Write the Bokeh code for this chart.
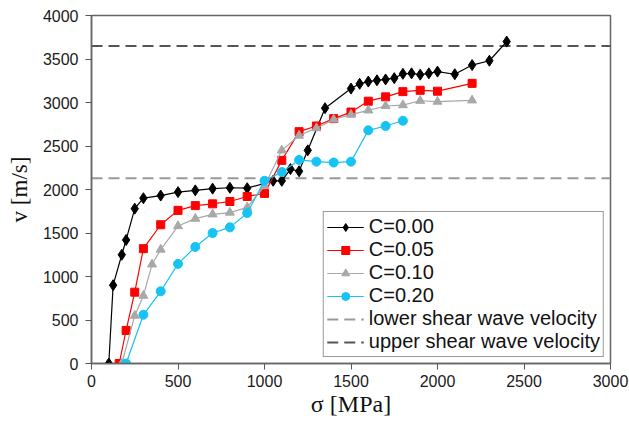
from bokeh.plotting import figure
from bokeh.models import Range1d, FixedTicker, Legend, LegendItem
from bokeh.embed import file_html
from bokeh.resources import INLINE

# ---- data ----
sigma_c000 = [100, 125, 175, 200, 250, 300, 400, 500, 600, 700, 800, 900, 1050, 1100,
              1150, 1200, 1250, 1350, 1500, 1550, 1600, 1650, 1700, 1750, 1800, 1850,
              1900, 1950, 2000, 2100, 2200, 2300, 2400]
v_c000 = [0, 900, 1250, 1420, 1780, 1900, 1930, 1970, 1990, 2010, 2020, 2015, 2100, 2100,
          2235, 2210, 2450, 2935, 3160, 3215, 3240, 3255, 3265, 3280, 3330, 3335,
          3320, 3335, 3355, 3325, 3430, 3480, 3700]

sigma_c005 = [160, 200, 250, 300, 400, 500, 600, 700, 800, 900, 1000, 1100, 1200, 1300,
              1400, 1500, 1600, 1700, 1800, 1900, 2000, 2200]
v_c005 = [0, 380, 820, 1320, 1595, 1760, 1815, 1835, 1862, 1920, 1955, 2335, 2665, 2730,
          2815, 2890, 3015, 3065, 3125, 3140, 3130, 3220]

sigma_c010 = [175, 250, 300, 350, 400, 500, 600, 700, 800, 900, 1000, 1100, 1200, 1300,
              1400, 1500, 1600, 1700, 1800, 1900, 2000, 2200]
v_c010 = [0, 550, 780, 1140, 1310, 1580, 1665, 1715, 1735, 1795, 2040, 2450, 2620, 2705,
          2805, 2860, 2910, 2960, 2970, 3020, 3010, 3025]

sigma_c020 = [200, 300, 400, 500, 600, 700, 800, 900, 1000, 1100, 1200, 1300, 1400, 1500,
              1600, 1700, 1800]
v_c020 = [0, 560, 830, 1145, 1340, 1500, 1565, 1730, 2100, 2200, 2340, 2320, 2310, 2320,
          2680, 2730, 2790]

lower_shear_v = 2130
upper_shear_v = 3650

x_ticks = [0, 500, 1000, 1500, 2000, 2500, 3000]
y_ticks = [0, 500, 1000, 1500, 2000, 2500, 3000, 3500, 4000]

labels = ["C=0.00", "C=0.05", "C=0.10", "C=0.20",
          "lower shear wave velocity", "upper shear wave velocity"]

# ---- figure ----
p = figure(width=629, height=423, output_backend="svg", toolbar_location=None,
           x_range=Range1d(0, 3000), y_range=Range1d(0, 4000),
           min_border_left=91, min_border_right=19, min_border_top=15, min_border_bottom=60)

p.xgrid.visible = False
p.ygrid.visible = False
p.outline_line_color = "#666666"
p.outline_line_width = 1.5
p.background_fill_color = "white"
p.border_fill_color = "white"

for ax in (p.xaxis[0], p.yaxis[0]):
    ax.axis_line_color = "#666666"
    ax.axis_line_width = 1.5
    ax.major_tick_line_color = "#555555"
    ax.major_tick_out = 6
    ax.major_tick_in = 0
    ax.minor_tick_line_color = None
    ax.major_label_text_font = "Liberation Sans"
    ax.major_label_text_font_size = "16px"
    ax.major_label_text_color = "#1a1a1a"
    ax.axis_label_text_font = "Liberation Serif"
    ax.axis_label_text_font_style = "normal"
    ax.axis_label_text_color = "#111111"

p.xaxis[0].ticker = FixedTicker(ticks=x_ticks)
p.yaxis[0].ticker = FixedTicker(ticks=y_ticks)
p.xaxis[0].major_label_standoff = 5
p.yaxis[0].major_label_standoff = 7

p.xaxis[0].axis_label = "σ [MPa]"
p.xaxis[0].axis_label_text_font_size = "24px"
p.xaxis[0].axis_label_standoff = 1

p.yaxis[0].axis_label = "v [m/s]"
p.yaxis[0].axis_label_text_font_size = "23px"
p.yaxis[0].axis_label_standoff = 8

# dashed reference lines
r_low = p.line([0, 3000], [lower_shear_v, lower_shear_v], line_color="#999999",
               line_width=2, line_dash="11 6")
r_up = p.line([0, 3000], [upper_shear_v, upper_shear_v], line_color="#555555",
              line_width=2, line_dash="11 6")

series = [
    (sigma_c000, v_c000, "#000000", "diamond", 11),
    (sigma_c005, v_c005, "#ff0000", "square", 8),
    (sigma_c010, v_c010, "#a8a8a8", "triangle", 9),
    (sigma_c020, v_c020, "#17c3f3", "circle", 9),
]
items = []
for (xs, ys, col, mk, sz), lab in zip(series, labels[:4]):
    rl = p.line(xs, ys, line_color=col, line_width=1.2)
    rs = p.scatter(xs, ys, marker=mk, size=sz, fill_color=col, line_color=col)
    items.append(LegendItem(label=lab, renderers=[rl, rs]))
items.append(LegendItem(label=labels[4], renderers=[r_low]))
items.append(LegendItem(label=labels[5], renderers=[r_up]))

legend = Legend(items=items, location="bottom_right", margin=6, padding=3,
                spacing=0, glyph_width=37, glyph_height=20, label_height=20,
                label_standoff=5, label_text_font="Liberation Sans",
                label_text_font_size="20px", label_text_color="#111111",
                border_line_color="#333333", border_line_width=1.5,
                background_fill_color="white", background_fill_alpha=1.0)
p.add_layout(legend)

open("out.html", "w").write(file_html(p, INLINE))
